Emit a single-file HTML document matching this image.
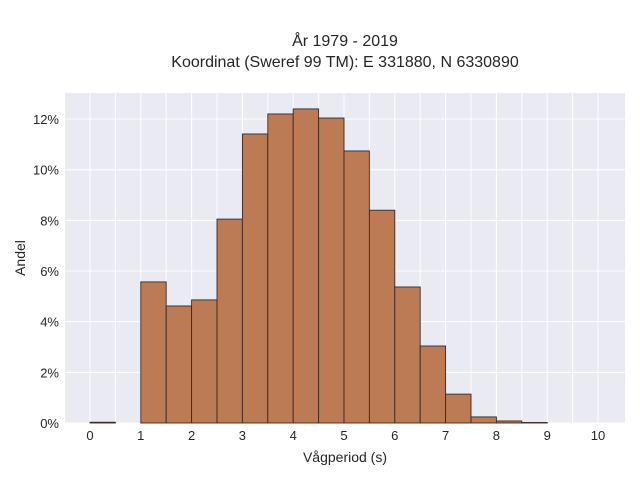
<!DOCTYPE html>
<html><head><meta charset="utf-8"><style>
body{margin:0;background:#fff;font-family:"Liberation Sans",sans-serif;}
</style></head><body>
<svg width="640" height="480" xmlns="http://www.w3.org/2000/svg">
<text x="345" y="46" text-anchor="middle" font-size="16" fill="#262626">År 1979 - 2019</text>
<text x="345" y="67" text-anchor="middle" font-size="16" fill="#262626">Koordinat (Sweref 99 TM): E 331880, N 6330890</text>
<rect x="65" y="93" width="560" height="330" fill="#eaeaf2"/>
<g id="grid"></g>
<g id="bars"></g>
<g id="ticks"></g>
<text x="345" y="462" text-anchor="middle" font-size="14" fill="#262626">Vågperiod (s)</text>
<text transform="translate(25,258) rotate(-90)" text-anchor="middle" font-size="14" fill="#262626">Andel</text>
</svg>
<script>
const binStarts=[0,0.5,1,1.5,2,2.5,3,3.5,4,4.5,5,5.5,6,6.5,7,7.5,8,8.5,9,9.5];
const shares=[0.03,0,5.57,4.62,4.86,8.05,11.41,12.2,12.4,12.04,10.74,8.4,5.37,3.04,1.14,0.24,0.08,0.02,0,0];
const binWidth=0.5;
const xTicks=[0,1,2,3,4,5,6,7,8,9,10];
const yTicks=[0,2,4,6,8,10,12];
const xs=v=>90+v*50.8;
const ys=v=>423-v*25.33;
const NS="http://www.w3.org/2000/svg";
function mk(t,a,p){const e=document.createElementNS(NS,t);for(const k in a)e.setAttribute(k,a[k]);p.appendChild(e);return e;}
const g=document.getElementById('grid'),b=document.getElementById('bars'),tk=document.getElementById('ticks');
for(let v=0;v<=10;v+=0.5){const l=mk('line',{x1:xs(v),x2:xs(v),y1:93,y2:423,stroke:'#fff','stroke-width':1},g);

}
yTicks.forEach(v=>{const l=mk('line',{x1:65,x2:625,y1:ys(v),y2:ys(v),stroke:'#fff','stroke-width':1},g);


const t=mk('text',{x:59,y:ys(v)+5,'text-anchor':'end','font-size':13,fill:'#262626'},tk);t.textContent=v+'%';

});
xTicks.forEach(v=>{const t=mk('text',{x:xs(v),y:440,'text-anchor':'middle','font-size':13,fill:'#262626'},tk);t.textContent=v;

});
binStarts.forEach((s,i)=>{const v=shares[i];if(v<=0)return;
const r=mk('rect',{x:xs(s),y:ys(v),width:xs(s+binWidth)-xs(s),height:423-ys(v),fill:'#bc7a55',stroke:'#3a2a22','stroke-width':0.9},b);

});
</script>
</body></html>
